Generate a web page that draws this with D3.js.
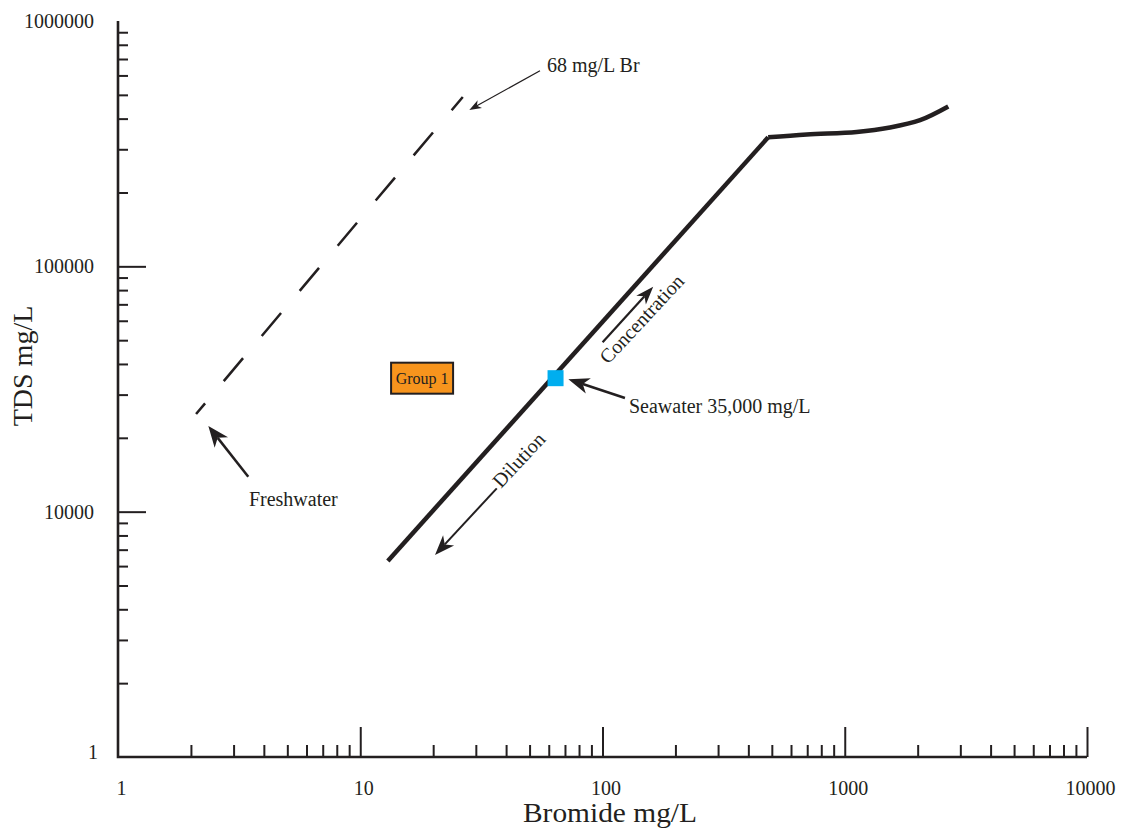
<!DOCTYPE html>
<html>
<head>
<meta charset="utf-8">
<script src="https://cdn.jsdelivr.net/npm/d3@7"></script>
<style>
  html, body { margin: 0; padding: 0; background: #fff; }
  svg { display: block; }
  text { font-family: "Liberation Serif", "Times New Roman", serif; fill: #231f20; }
</style>
</head>
<body>
<svg id="chart" width="1123" height="829"></svg>
<script>
// Axis ticks and labels
const bromideTicks = [1, 10, 100, 1000, 10000];
const bromideTickLabels = ["1", "10", "100", "1000", "10000"];
const tdsTicks = [1000, 10000, 100000, 1000000];
const tdsTickLabels = ["1", "10000", "100000", "1000000"];

// Seawater evaporation trend (Br mg/L, TDS mg/L)
const trendBr = [13, 483];
const trendTds = [6300, 335600];
// Halite-saturated part of the curve
const evapBr = [483, 697, 1120, 1538, 2046, 2675];
const evapTds = [335600, 345000, 353000, 368000, 394000, 448000];
// Freshwater dissolution line
const freshBr = [2.1, 26.5];
const freshTds = [25000, 490000];
// Seawater point
const seawaterPoint = [64, 35000];
// Sample group
const groupNames = ["Group 1"];
const groupBr = [18];
const groupTds = [35000];

// Annotations: arrow tail / head and label anchors, in Br / TDS units
const arrowList = [
  { from: [55.2, 627000], to: [28.2, 434000], len: 12, wid: 9, sw: 1.3 },
  { from: [3.45, 13890], to: [2.36, 22350], len: 21, wid: 17, sw: 2.5 },
  { from: [123.8, 29070], to: [72.3, 34640], len: 21, wid: 16, sw: 2.5 },
  { from: [100.1, 49030], to: [161.9, 82600], len: 18, wid: 13, sw: 2.2 },
  { from: [36.6, 12450], to: [20.35, 6660], len: 20, wid: 15, sw: 2 }
];
const noteList = [
  { text: "68 mg/L Br", at: [59, 620000], rot: 0 },
  { text: "Freshwater", at: [3.47, 10550], rot: 0 },
  { text: "Seawater 35,000 mg/L", at: [128.6, 25250], rot: 0 },
  { text: "Concentration", at: [105.4, 39600], rot: -47 },
  { text: "Dilution", at: [38.1, 12370], rot: -47 }
];

const ink = "#231f20";
const svg = d3.select("#chart");

const x = d3.scaleLog().domain([1, 10000]).range([118, 1087]);
const y = d3.scaleLog().domain([1000, 1000000]).range([757, 21]);

// minor ticks 2..9 in each decade
const minorOf = (lo, hi) => {
  const out = [];
  for (let d = lo; d < hi; d *= 10) for (let k = 2; k <= 9; k++) out.push(k * d);
  return out;
};

// ---- y axis ----
const gy = svg.append("g").attr("transform", "translate(118,0)");
gy.append("g").call(
  d3.axisLeft(y).tickValues(minorOf(1000, 1000000)).tickFormat("").tickSizeInner(-10).tickSizeOuter(0)
).call(g => g.select(".domain").remove());
gy.append("g").call(
  d3.axisLeft(y).tickValues(tdsTicks).tickFormat((d, i) => tdsTickLabels[i]).tickSizeInner(-28).tickSizeOuter(0).tickPadding(24)
).call(g => {
  g.select(".domain").remove();
  g.selectAll(".tick").filter(d => d === 1000 || d === 1000000).select("line").remove();
  g.selectAll(".tick text").attr("font-size", 20).attr("font-family", null).style("fill", ink);
  g.selectAll(".tick").filter(d => d === 1000).select("text").attr("dx", 4).attr("dy", "0.05em");
});
gy.selectAll(".tick line").attr("stroke", ink).attr("stroke-width", 2);

// ---- x axis ----
const gx = svg.append("g").attr("transform", "translate(0,757)");
gx.append("g").call(
  d3.axisBottom(x).tickValues(minorOf(1, 10000)).tickFormat("").tickSizeInner(-12).tickSizeOuter(0)
).call(g => g.select(".domain").remove());
gx.append("g").call(
  d3.axisBottom(x).tickValues(bromideTicks).tickFormat((d, i) => bromideTickLabels[i]).tickSizeInner(-30).tickSizeOuter(0).tickPadding(24)
).call(g => {
  g.select(".domain").remove();
  g.selectAll(".tick").filter(d => d === 1).select("line").remove();
  g.selectAll(".tick text").attr("font-size", 20).attr("font-family", null).attr("dx", 3).style("fill", ink);
});
gx.selectAll(".tick line").attr("stroke", ink).attr("stroke-width", 2);

// axis lines
svg.append("path")
  .attr("d", `M${x(1)},${y(1000000)}V${y(1000)}H${x(10000)}`)
  .attr("fill", "none").attr("stroke", ink).attr("stroke-width", 2.6)
  .attr("stroke-linejoin", "miter");

// axis titles
svg.append("text").attr("x", 610).attr("y", 822).attr("text-anchor", "middle")
  .attr("font-size", 28).attr("textLength", 174).attr("lengthAdjust", "spacingAndGlyphs")
  .text("Bromide mg/L");
svg.append("text").attr("transform", "translate(32,366) rotate(-90)").attr("text-anchor", "middle")
  .attr("font-size", 28).text("TDS mg/L");

// ---- lines ----
const line = d3.line().x(d => x(d[0])).y(d => y(d[1]));

svg.append("path")
  .datum(freshBr.map((b, i) => [b, freshTds[i]]))
  .attr("d", line).attr("fill", "none").attr("stroke", ink).attr("stroke-width", 2.5)
  .attr("stroke-dasharray", "30 29").attr("stroke-dashoffset", 16);

svg.append("path")
  .datum(trendBr.map((b, i) => [b, trendTds[i]]))
  .attr("d", line).attr("fill", "none").attr("stroke", ink).attr("stroke-width", 4.5);

svg.append("path")
  .datum(evapBr.map((b, i) => [b, evapTds[i]]))
  .attr("d", line.curve(d3.curveCatmullRom.alpha(0.5))).attr("fill", "none")
  .attr("stroke", ink).attr("stroke-width", 4.5).attr("stroke-linecap", "butt");

// seawater marker
svg.append("rect")
  .attr("x", x(seawaterPoint[0]) - 8).attr("y", y(seawaterPoint[1]) - 8)
  .attr("width", 16).attr("height", 16).attr("fill", "#00aeef");

// group box
const grp = svg.selectAll("g.grp").data(groupNames).join("g").attr("class", "grp")
  .attr("transform", (d, i) => `translate(${x(groupBr[i])},${y(groupTds[i])})`);
grp.append("rect").attr("x", -31).attr("y", -15.5).attr("width", 62).attr("height", 31)
  .attr("fill", "#f7941d").attr("stroke", ink).attr("stroke-width", 2);
grp.append("text").attr("text-anchor", "middle").attr("dy", "0.35em").attr("font-size", 16).text(d => d);

// ---- arrows ----
arrowList.forEach(a => {
  const p0 = [x(a.from[0]), y(a.from[1])];
  const p1 = [x(a.to[0]), y(a.to[1])];
  const dx = p1[0] - p0[0], dy = p1[1] - p0[1];
  const L = Math.hypot(dx, dy);
  const ux = dx / L, uy = dy / L, nx = -uy, ny = ux;
  const bx = p1[0] - ux * a.len, by = p1[1] - uy * a.len;
  const mx = p1[0] - ux * a.len * 0.72, my = p1[1] - uy * a.len * 0.72;
  svg.append("line").attr("x1", p0[0]).attr("y1", p0[1]).attr("x2", mx).attr("y2", my)
    .attr("stroke", ink).attr("stroke-width", a.sw);
  svg.append("path")
    .attr("d", `M${p1[0]},${p1[1]}L${bx + nx * a.wid / 2},${by + ny * a.wid / 2}L${mx},${my}L${bx - nx * a.wid / 2},${by - ny * a.wid / 2}Z`)
    .attr("fill", ink);
});

// ---- notes ----
noteList.forEach(n => {
  svg.append("text")
    .attr("transform", `translate(${x(n.at[0])},${y(n.at[1])}) rotate(${n.rot})`)
    .attr("font-size", 20).text(n.text);
});
</script>
</body>
</html>
